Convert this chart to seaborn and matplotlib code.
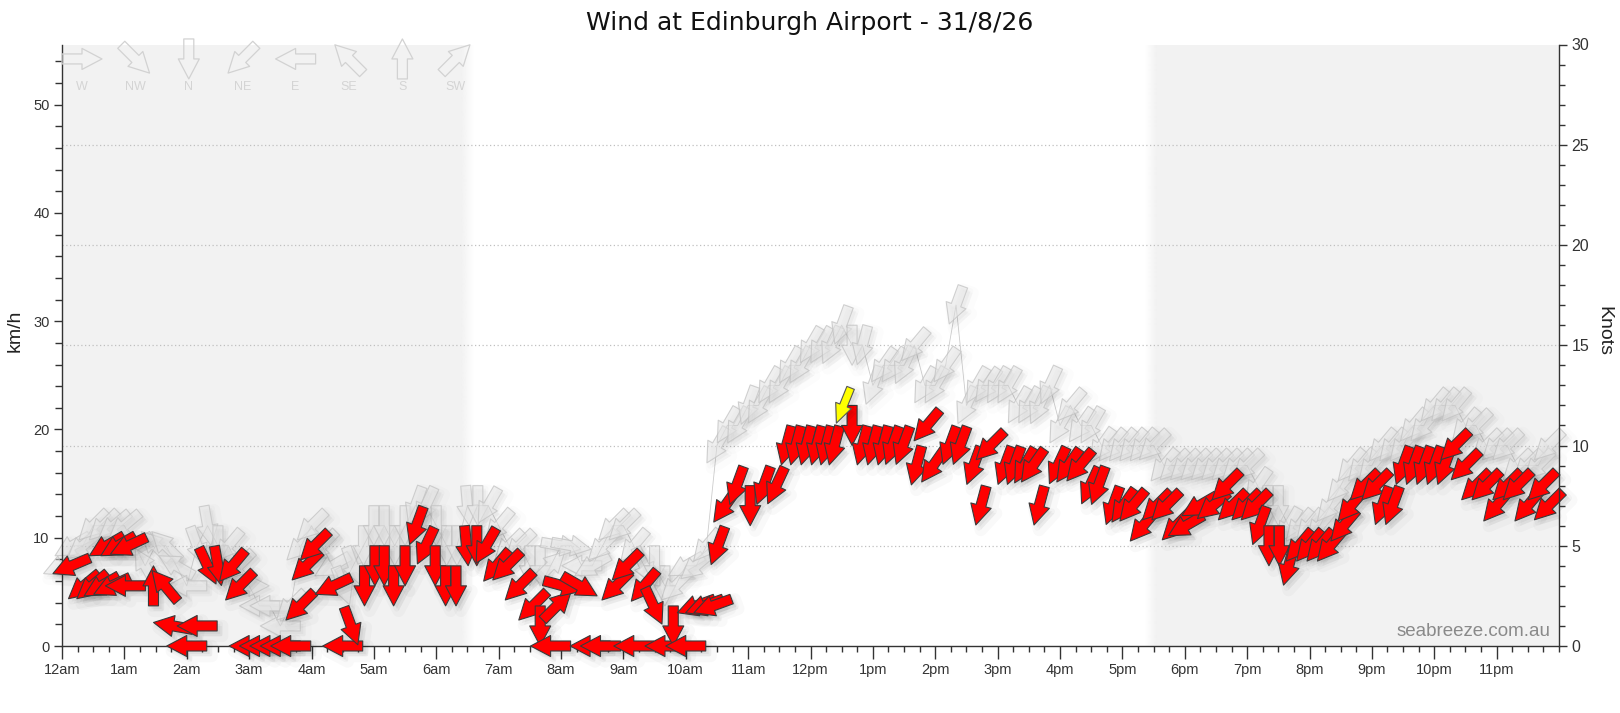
import numpy as np
import pandas as pd
import matplotlib
matplotlib.use("Agg")
import matplotlib.pyplot as plt
import seaborn as sns
from matplotlib.collections import PolyCollection
from matplotlib.transforms import IdentityTransform
from matplotlib.ticker import MultipleLocator

KMH_PER_KNOT = 1.852

# --- wind (red arrows): minute of day, speed (knots), direction wind blows from (deg) ---
wind_min = [9, 21, 29, 38, 43, 48, 54, 61, 64, 88, 99, 107, 120, 130, 140, 150, 164, 171,
            180, 190, 200, 210, 220, 229, 235, 243, 261, 270, 278,
            291, 301, 310, 319, 330, 341, 350, 359, 369, 379, 389, 399, 408, 418, 428, 440,
            453, 460, 470, 476, 482, 498, 508, 518, 533, 543, 550, 560, 569, 580, 588, 600,
            610, 618, 626,
            631, 638, 649, 662, 675, 687, 697, 706, 716, 726, 735, 743,
            760, 770, 780, 790, 799, 809, 822, 832, 838, 854, 864, 877, 884, 893,
            907, 916, 926, 934, 940, 958, 968, 979, 989, 997, 1011, 1021, 1030, 1040,
            1053, 1062, 1072, 1081, 1094, 1107, 1120, 1126, 1139,
            1148, 1152, 1161, 1171, 1180, 1190, 1200, 1210, 1220, 1233, 1240, 1253, 1264,
            1270, 1280, 1290, 1300, 1310, 1320, 1330, 1340, 1350, 1360, 1370, 1380, 1390,
            1400, 1410, 1424, 1430]
wind_kn = [4, 3, 3, 3, 5, 3, 5, 3, 5, 3, 3, 1, 0, 1, 4, 4, 4, 3,
           0, 0, 0, 0, 0, 2, 4, 5, 3, 0, 1,
           3, 4, 4, 3, 4, 6, 5, 4, 3, 3, 5, 5, 5, 4, 4, 3,
           2, 1, 0, 2, 3, 3, 0, 0, 3, 4, 0, 3, 2, 0, 1, 0,
           2, 2, 2,
           5, 7, 8, 7, 8, 8, 10, 10, 10, 10, 10, 10,
           11, 10, 10, 10, 10, 10, 9, 11, 9, 10, 10, 9, 7, 10,
           9, 9, 9, 9, 7, 9, 9, 9, 8, 8, 7, 7, 7, 6,
           7, 7, 6, 6, 7, 7, 8, 7, 7,
           7, 6, 5, 5, 4, 5, 5, 5, 5, 6, 7, 8, 8,
           7, 7, 9, 9, 9, 9, 9, 10, 9, 8, 8, 7, 8,
           8, 7, 8, 7]
wind_dir = [67, 50, 50, 60, 60, 65, 60, 90, 65, 180, 140, 100, 90, 90, 335, 350, 40, 45,
            90, 90, 90, 90, 90, 45, 45, 45, 65, 90, 340,
            0, 0, 0, 0, 0, 20, 25, 0, 0, 0, 355, 0, 30, 40, 45, 45,
            45, 0, 90, 225, 285, 300, 90, 90, 45, 45, 90, 40, 335, 90, 0, 90,
            70, 70, 70,
            20, 35, 20, 0, 20, 25, 15, 15, 15, 15, 15, 15,
            0, 15, 15, 15, 20, 20, 15, 40, 35, 20, 20, 20, 15, 45,
            20, 20, 30, 35, 15, 25, 35, 40, 25, 20, 20, 35, 40, 40,
            45, 45, 45, 60, 60, 50, 45, 45, 45,
            45, 20, 0, 0, 15, 40, 40, 40, 40, 40, 40, 45, 45,
            20, 20, 20, 20, 20, 20, 20, 45, 45, 45, 45, 40, 45,
            45, 40, 45, 45]

# highlighted (yellow) observation
peak_min = [751]
peak_kn = [12]
peak_dir = [22]

# --- gusts (grey arrows), every 10 minutes ---
gust_min = [0, 10, 20, 30, 40, 50, 60, 70, 80, 90, 100, 110,
            120, 130, 140, 150, 160, 170, 180, 190, 200, 210, 220, 230,
            240, 250, 260, 270, 280, 290, 300, 310, 320, 330, 340, 350,
            360, 370, 380, 390, 400, 410, 420, 430, 440, 450, 460, 470,
            480, 490, 500, 510, 520, 530, 540, 550, 560, 570, 580, 590,
            600, 610, 620, 630, 640, 650, 660, 670, 680, 690, 700, 710,
            720, 730, 740, 750, 760, 770, 780, 790, 800, 810, 820, 830,
            840, 850, 860, 870, 880, 890, 900, 910, 920, 930, 940, 950,
            960, 970, 980, 990, 1000, 1010, 1020, 1030, 1040, 1050, 1060, 1070,
            1080, 1090, 1100, 1110, 1120, 1130, 1140, 1150, 1160, 1170, 1180, 1190,
            1200, 1210, 1220, 1230, 1240, 1250, 1260, 1270, 1280, 1290, 1300, 1310,
            1320, 1330, 1340, 1350, 1360, 1370, 1380, 1390, 1400, 1410, 1420, 1430]
gust_kn = [4, 5, 5, 6, 6, 6, 6, 5, 4, 5, 5, 4,
           3, 5, 6, 5, 5, 4, 3, 2, 2, 1, 2, 5,
           6, 5, 4, 3, 4, 5, 6, 6, 5, 6, 7, 7,
           6, 5, 5, 7, 7, 7, 6, 5, 5, 4, 4, 4,
           5, 5, 4, 4, 5, 6, 6, 5, 4, 4, 3, 3,
           4, 4, 5, 10, 11, 11, 12, 12, 13, 13, 14, 14,
           15, 15, 15, 16, 15, 15, 13, 14, 14, 14, 15, 13,
           13, 14, 17, 12, 13, 13, 13, 13, 12, 12, 12, 13,
           11, 12, 11, 11, 10, 10, 10, 10, 10, 10, 9, 9,
           9, 9, 9, 9, 9, 9, 9, 8, 7, 7, 6, 6,
           6, 6, 7, 8, 9, 9, 9, 10, 10, 10, 11, 11,
           12, 12, 12, 11, 11, 10, 10, 10, 9, 9, 9, 10]
gust_dir = [67, 60, 50, 45, 45, 50, 50, 60, 150, 135, 135, 120,
            90, 340, 350, 0, 40, 45, 270, 90, 90, 90, 45, 45,
            45, 45, 60, 340, 340, 0, 0, 0, 0, 0, 20, 25,
            0, 0, 0, 355, 0, 30, 40, 45, 45, 0, 0, 225,
            280, 280, 90, 60, 45, 45, 45, 40, 335, 0, 0, 45,
            60, 50, 40, 30, 30, 30, 20, 30, 30, 30, 30, 30,
            30, 30, 25, 20, 0, 15, 20, 35, 35, 25, 40, 30,
            30, 35, 20, 25, 30, 35, 30, 30, 30, 30, 25, 25,
            30, 40, 35, 30, 35, 40, 40, 40, 40, 45, 40, 45,
            45, 45, 45, 45, 45, 45, 45, 35, 0, 0, 30, 40,
            40, 40, 40, 40, 40, 40, 40, 40, 40, 40, 40, 40,
            40, 40, 40, 40, 45, 45, 45, 45, 45, 45, 45, 45]

# night (shaded) periods, hours
sunrise_h = 6.4
sunset_h = 17.47

hour_labels = ["12am", "1am", "2am", "3am", "4am", "5am", "6am", "7am", "8am", "9am",
               "10am", "11am", "12pm", "1pm", "2pm", "3pm", "4pm", "5pm", "6pm", "7pm",
               "8pm", "9pm", "10pm", "11pm"]
compass_names = ["W", "NW", "N", "NE", "E", "SE", "S", "SW"]
compass_deg = [270, 315, 0, 45, 90, 135, 180, 225]

wind = pd.DataFrame({"hour": np.array(wind_min) / 60, "kmh": np.array(wind_kn) * KMH_PER_KNOT,
                     "dir": wind_dir})
gust = pd.DataFrame({"hour": np.array(gust_min) / 60, "kmh": np.array(gust_kn) * KMH_PER_KNOT,
                     "dir": gust_dir})
peak = pd.DataFrame({"hour": np.array(peak_min) / 60, "kmh": np.array(peak_kn) * KMH_PER_KNOT,
                     "dir": peak_dir})

sns.set_style("white")
plt.rcParams["font.family"] = ["Liberation Sans", "DejaVu Sans"]

W, H = 1620, 713
fig = plt.figure(figsize=(W / 100, H / 100), dpi=100)
ax = fig.add_axes([62 / W, 1 - 646 / H, 1497 / W, 601.5 / H])
ymax = 30 * KMH_PER_KNOT


def arrow_verts(dirs, sx=1.0, sy=1.0):
    # arrow 40 px long, pointing along +x, in display pixels
    base = np.array([(-20, -5), (0, -5), (0, -10.5), (20, 0), (0, 10.5), (0, 5), (-20, 5)], float)
    base[:, 0] *= sx
    base[:, 1] *= sy
    out = []
    for d in dirs:
        th = np.deg2rad(d)
        phi = np.arctan2(-np.cos(th), -np.sin(th))
        c, s = np.cos(phi), np.sin(phi)
        out.append(base @ np.array([[c, s], [-s, c]]))
    return out


def add_arrows(df, face, edge, lw, z, shadow=1.0, sx=1.0, sy=1.0):
    verts = arrow_verts(df["dir"], sx, sy)
    offs = np.column_stack([df["hour"], df["kmh"]])
    if shadow:
        for shift, a_face, a_edge, w in [((5, -5), 0.03, 0.022, 9), ((3, -3), 0.045, 0.028, 4)]:
            sv = [v + np.array(shift) for v in verts]
            pc = PolyCollection(sv, offsets=offs, offset_transform=ax.transData,
                                transform=IdentityTransform(),
                                facecolors=(0, 0, 0, a_face * shadow),
                                edgecolors=(0, 0, 0, a_edge * shadow),
                                linewidths=w, zorder=z - 0.5)
            pc.set_clip_on(False)
            ax.add_collection(pc, autolim=False)
    pc = PolyCollection(verts, offsets=offs, offset_transform=ax.transData,
                        transform=IdentityTransform(), facecolors=face, edgecolors=edge,
                        linewidths=lw, zorder=z)
    pc.set_clip_on(False)
    ax.add_collection(pc, autolim=False)


# night shading with soft edges
bg = np.array([242, 242, 242]) / 255
ax.axvspan(0, sunrise_h, color=bg, lw=0, zorder=0)
ax.axvspan(sunset_h + 0.08, 24, color=bg, lw=0, zorder=0)
ramp = np.linspace(1, 0, 60)
img = np.zeros((1, 60, 4))
img[..., :3] = bg
img[0, :, 3] = ramp
ax.imshow(img, extent=[sunrise_h, sunrise_h + 0.2, 0, ymax], aspect="auto", zorder=0,
          interpolation="bilinear")
ax.imshow(img[:, ::-1], extent=[sunset_h - 0.1, sunset_h + 0.08, 0, ymax], aspect="auto",
          zorder=0, interpolation="bilinear")

# dotted grid at every 5 knots
for k in [5, 10, 15, 20, 25]:
    ax.axhline(k * KMH_PER_KNOT, color="#c0c0c0", lw=0.9, ls=(0, (1, 2)), zorder=0.5)

# thin line through the gust points
sns.lineplot(data=gust, x="hour", y="kmh", ax=ax, color="#cccccc", lw=0.6, zorder=1,
             legend=False)

add_arrows(gust, (0.91, 0.91, 0.91, 0.5), (0.76, 0.76, 0.76, 0.75), 0.8, 2, shadow=0.6)
add_arrows(wind, "#ff0000", "#3a3a3a", 0.8, 4)
add_arrows(peak, "#ffff00", "#555555", 0.8, 5, sx=0.95, sy=0.8)

# compass legend at top left
leg_x = [(20 + 53.4 * k) / 1497 for k in range(len(compass_names))]
lv = arrow_verts(compass_deg)
pc = PolyCollection(lv, offsets=np.column_stack([leg_x, [0.976] * len(leg_x)]),
                    offset_transform=ax.transAxes, transform=IdentityTransform(),
                    facecolors="none", edgecolors="#d2d2d2", linewidths=0.9, zorder=3)
pc.set_clip_on(False)
ax.add_collection(pc, autolim=False)
for xx, name in zip(leg_x, compass_names):
    ax.text(xx, 0.929, name, transform=ax.transAxes, ha="center", va="center",
            fontsize=9, color="#d4d4d4")

ax.set_xlim(0, 24)
ax.set_ylim(0, ymax)
ax.set_xlabel("")
ax.set_ylabel("")
ax.set_xticks(range(24))
ax.set_xticklabels(hour_labels)
ax.xaxis.set_minor_locator(MultipleLocator(0.25))
ax.yaxis.set_major_locator(MultipleLocator(10))
ax.yaxis.set_minor_locator(MultipleLocator(2))
ax.tick_params(axis="x", which="major", length=9, width=1, color="#333333",
               labelsize=10.5, labelcolor="#333333", pad=3)
ax.tick_params(axis="x", which="minor", length=4, width=1, color="#333333")
ax.tick_params(axis="y", which="major", length=6, width=1, color="#333333",
               labelsize=10.5, labelcolor="#333333", pad=3)
ax.tick_params(axis="y", which="minor", length=5, width=1, color="#333333")
ax.tick_params(bottom=True, left=True, which="both", direction="out")
for side in ["top", "right"]:
    ax.spines[side].set_visible(False)
for side in ["left", "bottom"]:
    ax.spines[side].set_color("#333333")
    ax.spines[side].set_linewidth(1)

ax2 = ax.twinx()
ax2.set_ylim(0, 30)
ax2.yaxis.set_major_locator(MultipleLocator(5))
ax2.yaxis.set_minor_locator(MultipleLocator(1))
ax2.tick_params(axis="y", which="major", length=6, width=1, color="#333333",
                labelsize=11.5, labelcolor="#333333", pad=3, direction="out")
ax2.tick_params(axis="y", which="minor", length=4, width=1, color="#333333", direction="out")
for side in ["top", "left", "bottom"]:
    ax2.spines[side].set_visible(False)
ax2.spines["right"].set_color("#333333")
ax2.spines["right"].set_linewidth(1)
ax2.grid(False)

ax.text(0.994, 0.016, "seabreeze.com.au", transform=ax.transAxes, ha="right", va="baseline",
        fontsize=13.5, color="#8a8a8a", zorder=6)

fig.text(0.5, 1 - 23 / H, "Wind at Edinburgh Airport - 31/8/26", ha="center", va="center",
         fontsize=18, color="#111111", family="DejaVu Sans")
fig.text(15.5 / W, 1 - 331 / H, "km/h", rotation=90, ha="center", va="center",
         fontsize=14, color="#222222")
fig.text(1604 / W, 1 - 331 / H, "Knots", rotation=270, ha="center", va="center",
         fontsize=14, color="#222222")

fig.savefig("out.png", dpi=100, facecolor="white")
